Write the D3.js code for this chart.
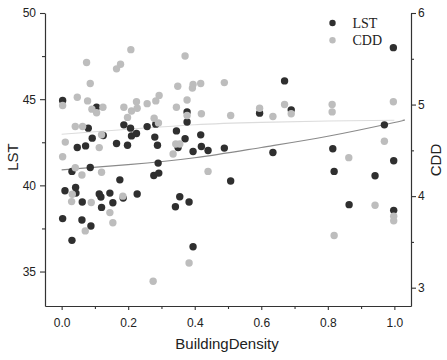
<!DOCTYPE html>
<html>
<head>
<meta charset="utf-8">
<script src="https://cdn.jsdelivr.net/npm/d3@7"></script>
<style>
  html, body { margin: 0; padding: 0; background: #fff; }
  svg { display: block; }
</style>
</head>
<body>
<svg id="chart" width="447" height="360"></svg>
<script>
// ---- data ----
const lstBD = [0.003,0.105,0.377,0.080,0.187,0.207,0.257,0.283,0.345,0.377,0.418,0.092,0.210,0.225,0.280,0.371,0.047,0.072,0.165,0.198,0.288,0.350,0.395,0.420,0.440,0.125,0.031,0.086,0.290,0.277,0.292,0.175,0.010,0.042,0.043,0.113,0.118,0.145,0.062,0.154,0.185,0.227,0.120,0.355,0.383,0.342,0.003,0.061,0.088,0.031,0.395,0.670,0.595,0.690,0.489,0.635,0.815,0.508,0.819,0.942,0.864,0.997,0.970,0.998,0.998];
const lstVal = [44.92,44.54,44.26,43.32,43.51,43.32,43.41,43.55,43.16,43.68,42.93,42.74,42.87,43.01,42.80,42.70,42.20,42.29,42.43,42.33,42.33,42.20,41.96,42.25,42.02,42.89,40.81,41.04,41.29,40.57,40.71,40.32,39.69,39.88,39.55,39.50,39.32,39.55,39.03,38.99,39.26,39.50,38.72,39.34,39.03,38.76,38.07,37.99,37.64,36.81,36.44,46.06,44.19,44.38,42.16,41.91,42.12,40.25,40.81,40.56,38.88,47.99,43.51,41.43,38.55];

const cddBD = [0.075,0.208,0.177,0.165,0.086,0.371,0.349,0.395,0.393,0.418,0.047,0.078,0.003,0.091,0.105,0.124,0.187,0.225,0.210,0.227,0.198,0.257,0.283,0.293,0.377,0.345,0.377,0.420,0.278,0.291,0.041,0.063,0.011,0.120,0.113,0.003,0.343,0.355,0.335,0.041,0.061,0.120,0.440,0.032,0.030,0.089,0.184,0.145,0.154,0.071,0.383,0.489,0.508,0.595,0.635,0.670,0.690,0.813,0.813,0.863,0.942,0.819,0.997,0.970,0.998,0.998,0.275];
const cddVal = [5.46,5.60,5.44,5.39,5.23,5.53,5.20,5.22,5.18,5.23,5.08,5.04,4.99,4.95,4.91,4.97,4.97,5.03,4.93,4.96,4.86,5.01,5.04,5.10,5.05,4.97,4.88,4.90,4.85,4.80,4.76,4.76,4.59,4.67,4.53,4.43,4.57,4.57,4.46,4.31,4.23,4.26,4.27,4.02,3.94,3.93,4.00,3.82,3.71,3.62,3.27,5.24,4.88,4.96,4.87,5.00,4.90,5.00,4.92,4.42,3.90,3.57,5.03,4.60,3.78,3.73,3.07];

// fitted curves
const lstFitBD  = [0, 0.2, 0.4, 0.6, 0.8, 1.0, 1.025];
const lstFitVal = [40.90, 41.20, 41.60, 42.20, 42.85, 43.65, 43.77];
const cddFitBD  = [0, 0.2, 0.4, 0.6, 0.8, 1.0];
const cddFitVal = [4.675, 4.73, 4.78, 4.805, 4.82, 4.828];

const xTicks = [0, 0.2, 0.4, 0.6, 0.8, 1.0];
const xMinor = [0.1, 0.3, 0.5, 0.7, 0.9];
const lstTicks = [35, 40, 45, 50];
const lstMinor = [37.5, 42.5, 47.5];
const cddTicks = [3, 4, 5, 6];
const cddMinor = [3.5, 4.5, 5.5];
const seriesNames = ["LST", "CDD"];
const seriesColors = ["#2f2f2f", "#bdbdbd"];

// ---- drawing ----
const svg = d3.select("#chart");
const L = 45, R = 411, T = 13, B = 306;
const x = d3.scaleLinear().domain([-0.05, 1.05]).range([L, R]);
const yL = d3.scaleLinear().domain([33, 50]).range([B, T]);
const yR = d3.scaleLinear().domain([2.8, 6]).range([B, T]);

const sansFont = "'Liberation Sans', Arial, sans-serif";
const serifFont = "'Liberation Serif', 'Times New Roman', serif";
const axisColor = "#333";

function styleAxis(g) {
  g.selectAll("path.domain").attr("stroke", axisColor).attr("stroke-width", 1.2);
  g.selectAll(".tick line").attr("stroke", axisColor).attr("stroke-width", 1.1);
  g.selectAll(".tick text").attr("fill", "#222").style("font-family", sansFont).style("font-size", "12px");
}

// minor ticks
svg.append("g").attr("transform", `translate(0,${B})`)
  .call(d3.axisBottom(x).tickValues(xMinor).tickSize(3).tickSizeOuter(0).tickFormat(""))
  .call(g => { g.select("path.domain").remove(); styleAxis(g); });
svg.append("g").attr("transform", `translate(${L},0)`)
  .call(d3.axisLeft(yL).tickValues(lstMinor).tickSize(3).tickSizeOuter(0).tickFormat(""))
  .call(g => { g.select("path.domain").remove(); styleAxis(g); });
svg.append("g").attr("transform", `translate(${R},0)`)
  .call(d3.axisRight(yR).tickValues(cddMinor).tickSize(3).tickSizeOuter(0).tickFormat(""))
  .call(g => { g.select("path.domain").remove(); styleAxis(g); });

// major axes
svg.append("g").attr("transform", `translate(0,${B})`)
  .call(d3.axisBottom(x).tickValues(xTicks).tickSize(4).tickSizeOuter(0).tickPadding(8).tickFormat(d3.format(".1f")))
  .call(styleAxis);
svg.append("g").attr("transform", `translate(${L},0)`)
  .call(d3.axisLeft(yL).tickValues(lstTicks).tickSize(5).tickSizeOuter(0).tickPadding(4).tickFormat(d3.format("d")))
  .call(styleAxis);
svg.append("g").attr("transform", `translate(${R},0)`)
  .call(d3.axisRight(yR).tickValues(cddTicks).tickSize(5).tickSizeOuter(0).tickPadding(2).tickFormat(d3.format("d")))
  .call(styleAxis);

// axis titles
svg.append("text").attr("x", 227).attr("y", 349).attr("text-anchor", "middle")
  .style("font-family", sansFont).style("font-size", "15px").attr("fill", "#222").text("BuildingDensity");
svg.append("text").attr("transform", "translate(18,157) rotate(-90)").attr("text-anchor", "middle")
  .style("font-family", sansFont).style("font-size", "15px").attr("fill", "#222").text("LST");
svg.append("text").attr("transform", "translate(441,160) rotate(-90)").attr("text-anchor", "middle")
  .style("font-family", sansFont).style("font-size", "15px").attr("fill", "#222").text("CDD");

// fit lines
const lineL = d3.line().x(i => x(lstFitBD[i])).y(i => yL(lstFitVal[i])).curve(d3.curveNatural);
const lineR = d3.line().x(i => x(cddFitBD[i])).y(i => yR(cddFitVal[i])).curve(d3.curveNatural);
svg.append("path").attr("d", lineR(d3.range(cddFitBD.length)))
  .attr("fill", "none").attr("stroke", "#dcdcdc").attr("stroke-width", 1.1);
svg.append("path").attr("d", lineL(d3.range(lstFitBD.length)))
  .attr("fill", "none").attr("stroke", "#8a8a8a").attr("stroke-width", 1.1);

// points
svg.append("g").selectAll("circle").data(d3.range(lstBD.length)).join("circle")
  .attr("cx", i => x(lstBD[i])).attr("cy", i => yL(lstVal[i])).attr("r", 3.7)
  .attr("fill", seriesColors[0]);
svg.append("g").selectAll("circle").data(d3.range(cddBD.length)).join("circle")
  .attr("cx", i => x(cddBD[i])).attr("cy", i => yR(cddVal[i])).attr("r", 3.7)
  .attr("fill", seriesColors[1]);

// legend
const leg = svg.append("g");
seriesNames.forEach((name, i) => {
  leg.append("circle").attr("cx", 332.5).attr("cy", 23 + i * 17.3).attr("r", 3.2).attr("fill", seriesColors[i]);
  leg.append("text").attr("x", 352.5).attr("y", 28 + i * 17.3)
    .style("font-family", serifFont).style("font-size", "14px").attr("fill", "#222").text(name);
});
</script>
</body>
</html>
